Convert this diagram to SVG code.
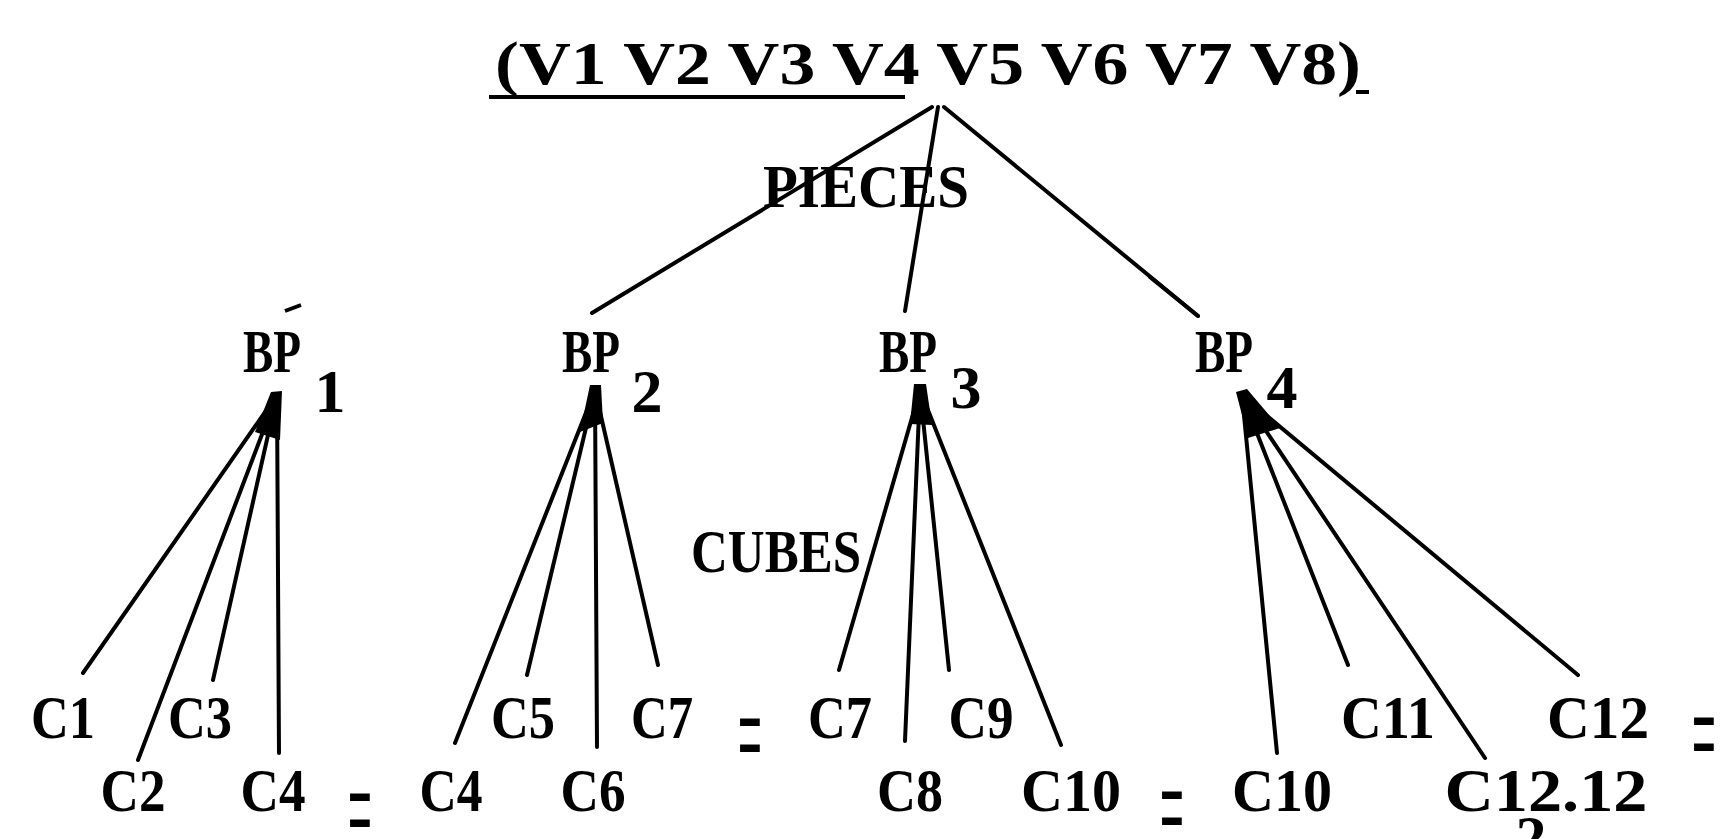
<svg xmlns="http://www.w3.org/2000/svg" width="1723" height="839" viewBox="0 0 1723 839">
<style>
  .t { font-family: "Liberation Serif", "Times New Roman", serif; font-weight: bold; font-size: 62px; fill: #000; text-anchor: middle; }
  .eq { font-family: "Liberation Mono", "Courier New", monospace; font-weight: normal; font-size: 58px; fill: #000; text-anchor: middle; }
  .ln { stroke: #000; stroke-width: 4; stroke-linecap: round; fill: none; }
  .blob { fill: #000; stroke: none; }
</style>
<rect width="1723" height="839" fill="#fff"/>

<g id="connectors">
  <line class="ln" x1="932" y1="107" x2="592" y2="313"/>
  <line class="ln" x1="938" y1="107" x2="905" y2="311"/>
  <line class="ln" x1="944" y1="107" x2="1198" y2="316"/>
  <line class="ln" x1="1150" y1="277" x2="1198" y2="316" stroke-width="6.5"/>

  <line class="ln" x1="277" y1="395" x2="83" y2="673"/>
  <line class="ln" x1="277" y1="395" x2="138" y2="760"/>
  <line class="ln" x1="277" y1="395" x2="213" y2="680"/>
  <line class="ln" x1="277" y1="395" x2="279" y2="753"/>
  <polygon class="blob" points="271,392 282,391 280,440 255,432"/>

  <line class="ln" x1="595" y1="390" x2="455" y2="743"/>
  <line class="ln" x1="595" y1="390" x2="527" y2="675"/>
  <line class="ln" x1="595" y1="390" x2="597" y2="747"/>
  <line class="ln" x1="595" y1="390" x2="658" y2="665"/>
  <polygon class="blob" points="590,385 601,385 603,423 580,432"/>

  <line class="ln" x1="920" y1="390" x2="839" y2="670"/>
  <line class="ln" x1="920" y1="390" x2="905" y2="741"/>
  <line class="ln" x1="920" y1="390" x2="949" y2="670"/>
  <line class="ln" x1="920" y1="390" x2="1061" y2="745"/>
  <polygon class="blob" points="914,384 926,384 932,425 910,424"/>

  <line class="ln" x1="1242" y1="395" x2="1277" y2="753"/>
  <line class="ln" x1="1242" y1="395" x2="1348" y2="665"/>
  <line class="ln" x1="1242" y1="395" x2="1485" y2="758"/>
  <line class="ln" x1="1242" y1="395" x2="1578" y2="675"/>
  <polygon class="blob" points="1236,392 1247,389 1280,428 1248,438"/>
</g>

<g id="root">
  <text class="t" x="928" y="84" textLength="866" lengthAdjust="spacingAndGlyphs">(V1 V2 V3 V4 V5 V6 V7 V8)</text>
  <rect x="489" y="95" width="416" height="4" fill="#000"/>
  <rect x="1356" y="90" width="13" height="4" fill="#000"/>
</g>

<g id="label-pieces">
  <text class="t" x="866" y="207" textLength="206" lengthAdjust="spacingAndGlyphs">PIECES</text>
</g>
<g id="label-cubes">
  <text class="t" x="776" y="572" textLength="170" lengthAdjust="spacingAndGlyphs">CUBES</text>
</g>

<g id="bp1">
  <text class="t" x="272" y="372" textLength="58" lengthAdjust="spacingAndGlyphs">BP</text>
  <text class="t" x="330" y="412">1</text>
  <line x1="285" y1="311" x2="301" y2="305" stroke="#000" stroke-width="4"/>
</g>
<g id="bp2">
  <text class="t" x="591" y="372" textLength="58" lengthAdjust="spacingAndGlyphs">BP</text>
  <text class="t" x="647" y="412">2</text>
</g>
<g id="bp3">
  <text class="t" x="908" y="372" textLength="58" lengthAdjust="spacingAndGlyphs">BP</text>
  <text class="t" x="966" y="408">3</text>
</g>
<g id="bp4">
  <text class="t" x="1224" y="372" textLength="58" lengthAdjust="spacingAndGlyphs">BP</text>
  <text class="t" x="1282" y="408">4</text>
</g>

<g id="leaves-row1">
  <g id="c1"><text class="t" x="63" y="738" textLength="64" lengthAdjust="spacingAndGlyphs">C1</text></g>
  <g id="c3"><text class="t" x="200" y="738" textLength="64" lengthAdjust="spacingAndGlyphs">C3</text></g>
  <g id="c5"><text class="t" x="523" y="738" textLength="64" lengthAdjust="spacingAndGlyphs">C5</text></g>
  <g id="c7a"><text class="t" x="662" y="738" textLength="62" lengthAdjust="spacingAndGlyphs">C7</text></g>
  <g id="eq1"><text class="eq" transform="translate(750,769) scale(0.7,1.8)">=</text></g>
  <g id="c7b"><text class="t" x="840" y="738" textLength="64" lengthAdjust="spacingAndGlyphs">C7</text></g>
  <g id="c9"><text class="t" x="981" y="738" textLength="65" lengthAdjust="spacingAndGlyphs">C9</text></g>
  <g id="c11"><text class="t" x="1388" y="738" textLength="94" lengthAdjust="spacingAndGlyphs">C11</text></g>
  <g id="c12a"><text class="t" x="1598" y="738" textLength="102" lengthAdjust="spacingAndGlyphs">C12</text></g>
  <g id="eq2"><text class="eq" transform="translate(1704,768) scale(0.7,1.8)">=</text></g>
</g>

<g id="leaves-row2">
  <g id="c2"><text class="t" x="133" y="811" textLength="65" lengthAdjust="spacingAndGlyphs">C2</text></g>
  <g id="c4a"><text class="t" x="273" y="811" textLength="65" lengthAdjust="spacingAndGlyphs">C4</text></g>
  <g id="eq3"><text class="eq" transform="translate(360,844) scale(0.7,1.8)">=</text></g>
  <g id="c4b"><text class="t" x="451" y="811" textLength="63" lengthAdjust="spacingAndGlyphs">C4</text></g>
  <g id="c6"><text class="t" x="593" y="811" textLength="65" lengthAdjust="spacingAndGlyphs">C6</text></g>
  <g id="c8"><text class="t" x="910" y="811" textLength="66" lengthAdjust="spacingAndGlyphs">C8</text></g>
  <g id="c10a"><text class="t" x="1071" y="811" textLength="100" lengthAdjust="spacingAndGlyphs">C10</text></g>
  <g id="eq4"><text class="eq" transform="translate(1172,842) scale(0.7,1.8)">=</text></g>
  <g id="c10b"><text class="t" x="1282" y="811" textLength="100" lengthAdjust="spacingAndGlyphs">C10</text></g>
  <g id="c12b">
    <text class="t" x="1546" y="811" textLength="203" lengthAdjust="spacingAndGlyphs">C12.12</text>
    <text class="t" x="1531" y="858">2</text>
  </g>
</g>
</svg>
